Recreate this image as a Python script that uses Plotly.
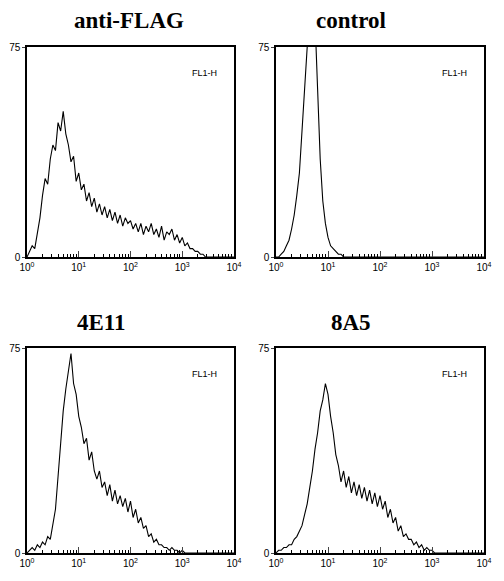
import plotly.graph_objects as go

# log10(FL1-H) bin centres
bins = [0.00, 0.05, 0.10, 0.15, 0.20, 0.25, 0.30, 0.35, 0.40, 0.45,
        0.50, 0.55, 0.60, 0.65, 0.70, 0.75, 0.80, 0.85, 0.90, 0.95,
        1.00, 1.05, 1.10, 1.15, 1.20, 1.25, 1.30, 1.35, 1.40, 1.45,
        1.50, 1.55, 1.60, 1.65, 1.70, 1.75, 1.80, 1.85, 1.90, 1.95,
        2.00, 2.05, 2.10, 2.15, 2.20, 2.25, 2.30, 2.35, 2.40, 2.45,
        2.50, 2.55, 2.60, 2.65, 2.70, 2.75, 2.80, 2.85, 2.90, 2.95,
        3.00, 3.05, 3.10, 3.15, 3.20, 3.25, 3.30, 3.35, 3.40, 3.45,
        3.50, 3.55, 3.60, 3.65, 3.70, 3.75, 3.80, 3.85, 3.90, 3.95, 4.00]

anti_flag = [0, 2, 4, 3, 8, 14, 22, 28, 26, 35, 40, 38, 48, 45, 52, 44, 40, 34, 36, 27,
             30, 24, 26, 20, 23, 18, 21, 16, 19, 15, 18, 14, 17, 13, 16, 12, 15, 11, 14, 12,
             13, 10, 12, 9, 12, 8, 11, 9, 12, 8, 10, 7, 11, 6, 9, 8, 10, 6, 8, 5,
             7, 4, 5, 3, 3, 2, 2, 1, 1, 0, 0, 0, 0, 0, 0, 0, 0, 0, 0, 0, 0]

control = [0, 0, 1, 2, 4, 6, 10, 15, 22, 30, 45, 62, 80, 90, 78, 85, 60, 35, 20, 12,
           7, 4, 3, 2, 1, 1, 0, 0, 0, 0, 0, 0, 0, 0, 0, 0, 0, 0, 0, 0,
           0, 0, 0, 0, 0, 0, 0, 0, 0, 0, 0, 0, 0, 0, 0, 0, 0, 0, 0, 0,
           0, 0, 0, 0, 0, 0, 0, 0, 0, 0, 0, 0, 0, 0, 0, 0, 0, 0, 0, 0, 0]

e4e11 = [0, 1, 2, 1, 3, 2, 4, 3, 6, 5, 10, 16, 28, 40, 52, 60, 66, 73, 62, 58,
         50, 46, 40, 42, 34, 37, 30, 27, 30, 24, 26, 21, 25, 19, 23, 18, 21, 17, 20, 15,
         19, 13, 16, 11, 13, 9, 10, 6, 7, 4, 5, 3, 3, 2, 2, 1, 2, 1, 1, 0,
         1, 0, 0, 0, 0, 0, 0, 0, 0, 0, 0, 0, 0, 0, 0, 0, 0, 0, 0, 0, 0]

a8a5 = [0, 1, 1, 2, 2, 3, 3, 5, 6, 8, 10, 14, 18, 24, 30, 38, 44, 52, 56, 62,
        58, 50, 44, 36, 32, 26, 30, 24, 28, 22, 26, 21, 25, 20, 24, 19, 23, 18, 22, 17,
        21, 16, 19, 13, 16, 11, 13, 8, 10, 6, 7, 5, 5, 3, 4, 2, 3, 1, 2, 1,
        1, 0, 0, 0, 0, 0, 0, 0, 0, 0, 0, 0, 0, 0, 0, 0, 0, 0, 0, 0, 0]

titles = ["anti-FLAG", "control", "4E11", "8A5"]
series = [anti_flag, control, e4e11, a8a5]

W, H, DX, DY = 504, 581, 7, 8
x_dom = [[(26 - DX) / W, (233 - DX) / W], [(275 - DX) / W, (483 - DX) / W]]
y_dom = [[1 - (257 - DY) / H, 1 - (47 - DY) / H], [1 - (553 - DY) / H, 1 - (348 - DY) / H]]
title_x = [128, 350, 100, 350]
title_y = [21, 322]

major = [1, 10, 100, 1000, 10000]
major_txt = ["10<sup>0</sup>", "10<sup>1</sup>", "10<sup>2</sup>", "10<sup>3</sup>", "10<sup>4</sup>"]
minor = [m * d for d in [1, 10, 100, 1000] for m in range(2, 10)]

fig = go.Figure()
for i, (name, ys) in enumerate(zip(titles, series)):
    row, col = i // 2, i % 2
    n = i + 1
    xa = "x" if n == 1 else f"x{n}"
    ya = "y" if n == 1 else f"y{n}"
    fig.add_trace(go.Scatter(x=[10 ** b for b in bins], y=ys, mode="lines",
                             line=dict(color="black", width=1.1),
                             xaxis=xa, yaxis=ya, showlegend=False, cliponaxis=True))
    xkey = "xaxis" if n == 1 else f"xaxis{n}"
    ykey = "yaxis" if n == 1 else f"yaxis{n}"
    fig.update_layout({
        xkey: dict(domain=x_dom[col], anchor=ya, type="log", range=[0, 4], automargin=False,
                   tickvals=major, ticktext=major_txt, ticks="inside", ticklen=6,
                   minor=dict(tickvals=minor, ticks="inside", ticklen=3, tickcolor="black"),
                   showline=True, mirror=True, linecolor="black", linewidth=1.5,
                   showgrid=False, zeroline=False,
                   tickfont=dict(family="Liberation Sans", size=10, color="black")),
        ykey: dict(domain=y_dom[row], anchor=xa, range=[0, 75], automargin=False,
                   tickvals=[0, 75], ticktext=["0", "75"], ticks="outside", ticklen=3,
                   showline=True, mirror=True, linecolor="black", linewidth=1.5,
                   showgrid=False, zeroline=False,
                   tickfont=dict(family="Liberation Sans", size=10, color="black")),
    })
    fig.add_annotation(text=f"<b>{name}</b>", xref="paper", yref="paper",
                       x=(title_x[i] - DX) / W, y=1 - (title_y[row] - DY) / H,
                       xanchor="center", yanchor="middle", showarrow=False,
                       font=dict(family="Liberation Serif", size=23, color="black"))
    fig.add_annotation(text="FL1-H", xref="paper", yref="paper",
                       x=x_dom[col][1] - 0.03, y=y_dom[row][1] - 0.045,
                       xanchor="right", yanchor="middle", showarrow=False,
                       font=dict(family="Liberation Sans", size=9, color="black"))

fig.update_layout(width=W, height=H, margin=dict(l=0, r=0, t=0, b=0),
                  paper_bgcolor="white", plot_bgcolor="white")
fig.write_html("out.html")
